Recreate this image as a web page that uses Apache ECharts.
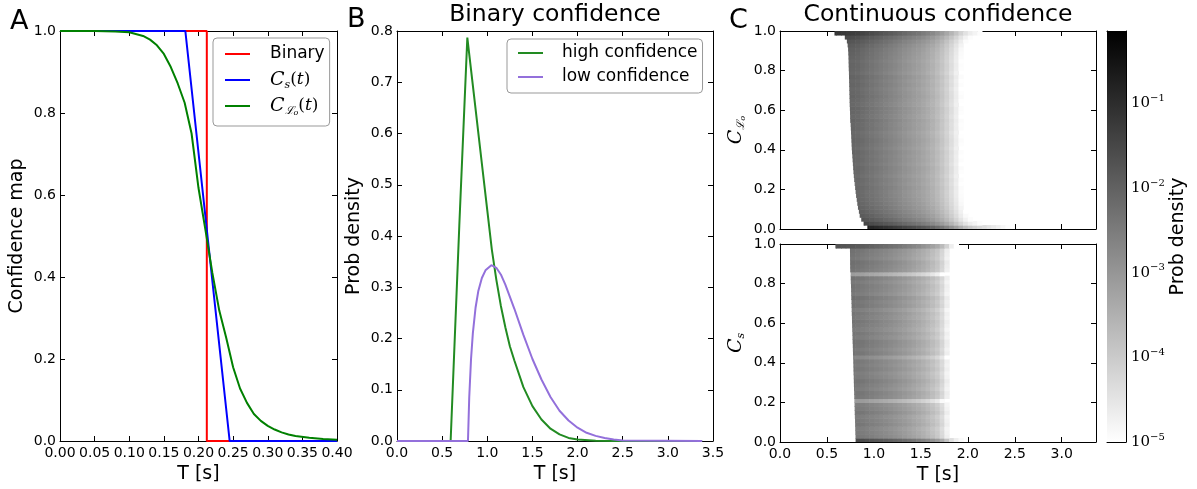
<!DOCTYPE html>
<html>
<head>
<meta charset="utf-8">
<script src="https://cdn.jsdelivr.net/npm/echarts@6/dist/echarts.min.js"></script>
<style>html,body{margin:0;padding:0;background:#fff}#chart{width:1197px;height:489px}</style>
</head>
<body>
<div id="chart"></div>
<script>
// A: confidence maps vs T
const tBinary = [0, 0.212, 0.212, 0.40];
const vBinary = [1, 1, 0, 0];
const tCs = [0, 0.181, 0.245, 0.40];
const vCs = [1, 1, 0, 0];
const tCLo = [0, 0.05, 0.08, 0.10, 0.12, 0.13, 0.14, 0.15, 0.16, 0.17, 0.18, 0.19, 0.20, 0.21, 0.22,
  0.23, 0.24, 0.25, 0.26, 0.27, 0.28, 0.29, 0.30, 0.31, 0.32, 0.33, 0.34, 0.36, 0.38, 0.40];
const vCLo = [1, 1, 0.999, 0.997, 0.988, 0.979, 0.965, 0.944, 0.912, 0.872, 0.825, 0.75, 0.617, 0.515, 0.41,
  0.318, 0.252, 0.18, 0.128, 0.093, 0.066, 0.049, 0.037, 0.028, 0.021, 0.016, 0.012, 0.008, 0.005, 0.003];

// B: binary confidence densities
const tHigh = [0, 0.594, 0.69, 0.779, 0.80, 0.85, 0.90, 0.95, 1.00, 1.05, 1.10, 1.15, 1.20, 1.25, 1.30,
  1.40, 1.50, 1.60, 1.70, 1.80, 1.90, 2.00, 2.20, 2.40, 3.38];
const vHigh = [0, 0, 0.42, 0.787, 0.755, 0.679, 0.602, 0.526, 0.45, 0.374, 0.315, 0.264, 0.222, 0.185, 0.157,
  0.105, 0.068, 0.042, 0.024, 0.013, 0.006, 0.003, 0.0005, 0, 0];
const tLow = [0, 0.786, 0.80, 0.82, 0.84, 0.87, 0.90, 0.94, 0.98, 1.045, 1.10, 1.15, 1.20, 1.30, 1.40,
  1.50, 1.60, 1.70, 1.80, 1.90, 2.00, 2.10, 2.20, 2.30, 2.40, 2.50, 3.38];
const vLow = [0, 0, 0.085, 0.16, 0.21, 0.26, 0.292, 0.318, 0.333, 0.343, 0.338, 0.325, 0.305, 0.258, 0.207,
  0.16, 0.12, 0.086, 0.059, 0.04, 0.026, 0.016, 0.01, 0.006, 0.003, 0.001, 0];

// C: continuous confidence, log10 density. columns start at tStart, step tStep; rows step confStep
const tStart = 0.55, tStep = 0.05, confStep = 0.02;
const profLo = [-1.95, -2.0, -2.05, -2.08, -2.1, -2.15, -2.22, -2.3, -2.37, -2.45,
  -2.52, -2.6, -2.68, -2.76, -2.85, -2.95, -3.03, -3.12, -3.2, -3.3,
  -3.42, -3.55, -3.72, -3.92, -4.15, -4.4, -4.68, -4.98, -5.25, -5.45,
  -5.6, -5.74, -5.86, -5.98, -6.1, -6.22, -6.34, -6.46, -6.58, -6.7, -6.85, -7.0];
const profS = [-2.3, -2.32, -2.35, -2.38, -2.4, -2.45, -2.5, -2.56, -2.62, -2.68,
  -2.74, -2.8, -2.87, -2.94, -3.02, -3.1, -3.2, -3.3, -3.4, -3.52,
  -3.66, -3.82, -4.0, -4.3, -4.75, -5.3, -5.6, -5.8, -5.95, -6.05,
  -6.15, -6.25, -6.35, -6.45, -6.55, -6.65, -6.75, -6.85, -7.0];
// per confidence row, bottom (0.00-0.02) to top (0.98-1.00)
const onsetLo = [0.93, 0.89, 0.865, 0.85, 0.84, 0.83, 0.823, 0.817, 0.81, 0.805,
  0.80, 0.795, 0.79, 0.786, 0.782, 0.779, 0.776, 0.773, 0.77, 0.767,
  0.764, 0.762, 0.76, 0.758, 0.756, 0.754, 0.752, 0.75, 0.748, 0.746,
  0.744, 0.742, 0.741, 0.74, 0.739, 0.738, 0.737, 0.736, 0.735, 0.734,
  0.732, 0.731, 0.73, 0.729, 0.727, 0.725, 0.72, 0.712, 0.69, 0.58];
const shiftLo = [1.5, 0.8, 0.5, 0.35, 0.25, 0.18, 0.12, 0.08, 0.05, 0.03,
  0.06, 0.0, 0.04, -0.03, 0.02, 0.05, -0.02, 0.03, 0.0, 0.04,
  -0.03, 0.02, 0.05, 0.0, -0.04, 0.03, 0.01, 0.05, -0.02, 0.02,
  0.04, -0.03, 0.0, 0.05, 0.02, -0.02, 0.04, 0.0, 0.06, -0.03,
  0.02, 0.04, 0.0, 0.05, 0.08, 0.12, 0.2, 0.32, 0.5, 0.8];
const onsetS = [0.805, 0.804, 0.802, 0.801, 0.800, 0.799, 0.797, 0.796, 0.795, 0.794,
  0.792, 0.791, 0.790, 0.788, 0.787, 0.786, 0.785, 0.783, 0.782, 0.781,
  0.780, 0.778, 0.777, 0.776, 0.775, 0.773, 0.772, 0.771, 0.769, 0.768,
  0.767, 0.766, 0.764, 0.763, 0.762, 0.761, 0.759, 0.758, 0.757, 0.756,
  0.754, 0.753, 0.752, 0.750, 0.749, 0.748, 0.747, 0.746, 0.745, 0.59];
const shiftS = [0.9, 0.05, 0.0, -0.05, 0.08, 0.02, -0.04, 0.1, 0.0, -0.06,
  -0.6, 0.05, 0.1, -0.03, 0.04, 0.12, 0.0, -0.05, 0.06, -0.02,
  0.03, -0.25, 0.08, 0.0, 0.1, 0.12, -0.03, 0.05, -0.06, 0.02,
  0.07, -0.02, 0.04, -0.08, 0.1, 0.05, 0.14, -0.05, 0.02, 0.06,
  -0.04, 0.08, -0.7, 0.04, 0.1, 0.15, 0.0, 0.06, 0.1, 0.6];
const cbTicks = [-5, -4, -3, -2, -1];
const cbMin = -5, cbMax = -0.145;

const FONT = 'DejaVu Sans';
const SERIF = 'DejaVu Serif';
const zip = (xs, ys) => xs.map((x, i) => [x, ys[i]]);

function cells(onset, shift, prof) {
  const out = [];
  onset.forEach((t0, i) => {
    prof.forEach((p, k) => {
      const a = tStart + k * tStep, b = a + tStep;
      if (b <= t0) return;
      const v = p + shift[i];
      if (v < cbMin) return;
      out.push([Math.max(a, t0), b, i * confStep, (i + 1) * confStep, Math.min(v, cbMax)]);
    });
  });
  return out;
}

const axLine = { show: true, onZero: false, lineStyle: { color: '#000', width: 1 } };
const axTick = { show: true, inside: true, length: 5, lineStyle: { color: '#000', width: 1 } };
const lab = { color: '#000', fontFamily: FONT, fontSize: 14 };
function fmt(dec, step) {
  return v => { const r = v / step; return Math.abs(r - Math.round(r)) < 1e-6 ? v.toFixed(dec) : ''; };
}
const mathRich = {
  c: { fontFamily: SERIF, fontStyle: 'italic', fontSize: 19, lineHeight: 22 },
  s: { fontFamily: SERIF, fontStyle: 'italic', fontSize: 11, lineHeight: 10, verticalAlign: 'bottom' },
  l: { fontFamily: SERIF, fontStyle: 'italic', fontSize: 11, lineHeight: 11, verticalAlign: 'bottom' },
  o: { fontFamily: SERIF, fontStyle: 'italic', fontSize: 8, lineHeight: 6, verticalAlign: 'bottom' },
  p: { fontFamily: SERIF, fontSize: 17, lineHeight: 22 },
  t: { fontFamily: SERIF, fontStyle: 'italic', fontSize: 17, lineHeight: 22 }
};

function xPair(grid, min, max, interval, dec, showLabel, name) {
  return [
    { type: 'value', gridIndex: grid, position: 'bottom', min, max, interval,
      axisLine: axLine, axisTick: axTick, splitLine: { show: false },
      axisLabel: Object.assign({ show: showLabel, margin: 5, formatter: fmt(dec, interval) }, lab),
      name: name || '', nameLocation: 'middle', nameGap: 24,
      nameTextStyle: { fontFamily: FONT, fontSize: 19, color: '#000' } },
    { type: 'value', gridIndex: grid, position: 'top', min, max, interval,
      axisLine: axLine, axisTick: axTick, splitLine: { show: false }, axisLabel: { show: false } }
  ];
}
function yPair(grid, min, max, interval, name, nameGap, rich) {
  return [
    { type: 'value', gridIndex: grid, position: 'left', min, max, interval,
      axisLine: axLine, axisTick: axTick, splitLine: { show: false },
      axisLabel: Object.assign({ margin: 4, formatter: fmt(1, interval) }, lab),
      name, nameLocation: 'middle', nameGap, nameRotate: 90,
      nameTextStyle: { fontFamily: FONT, fontSize: 19, color: '#000', rich } },
    { type: 'value', gridIndex: grid, position: 'right', min, max, interval,
      axisLine: axLine, axisTick: axTick, splitLine: { show: false }, axisLabel: { show: false } }
  ];
}

function renderCell(params, api) {
  const p0 = api.coord([api.value(0), api.value(3)]);
  const p1 = api.coord([api.value(1), api.value(2)]);
  return {
    type: 'rect',
    shape: { x: p0[0], y: p0[1], width: p1[0] - p0[0] + 0.6, height: p1[1] - p0[1] + 0.6 },
    style: { fill: api.visual('color') }
  };
}
function renderBar(params, api) {
  const p0 = api.coord([api.value(0), api.value(3)]);
  const p1 = api.coord([api.value(1), api.value(2)]);
  return {
    type: 'rect',
    shape: { x: p0[0], y: p0[1], width: p1[0] - p0[0], height: p1[1] - p0[1] },
    style: { fill: new echarts.graphic.LinearGradient(0, 0, 0, 1, [
      { offset: 0, color: '#000000' }, { offset: 1, color: '#ffffff' }]) }
  };
}

const line = (name, data, color, xi, yi) => ({
  name, type: 'line', data, xAxisIndex: xi, yAxisIndex: yi, symbol: 'none', clip: false,
  lineStyle: { color, width: 2 }, itemStyle: { color }, animation: false
});
const legendBase = {
  orient: 'vertical', icon: 'rect', itemWidth: 25, itemHeight: 2, backgroundColor: '#fff',
  borderColor: '#999', borderWidth: 1, borderRadius: 4, selectedMode: false
};
const legendA = {
  Binary: 'Binary',
  Cs: '{c|C}{s|s}{p|(}{t|t}{p|)}',
  CLo: '{c|C}{l|ℒ}{o|o}{p|(}{t|t}{p|)}'
};

const chart = echarts.init(document.getElementById('chart'));
chart.setOption({
  animation: false,
  grid: [
    { left: 60, top: 31, width: 277, height: 411 },
    { left: 397, top: 31, width: 316, height: 411 },
    { left: 780, top: 31, width: 316, height: 198 },
    { left: 780, top: 244, width: 316, height: 198 },
    { left: 1107, top: 31, width: 19, height: 411 }
  ],
  xAxis: [
    ...xPair(0, 0, 0.40, 0.05, 2, true, 'T [s]'),
    ...xPair(1, 0, 3.5, 0.5, 1, true, 'T [s]'),
    ...xPair(2, 0, 3.365, 0.5, 1, false, ''),
    ...xPair(3, 0, 3.365, 0.5, 1, true, 'T [s]'),
    { type: 'value', gridIndex: 4, position: 'bottom', min: 0, max: 1, axisLine: axLine,
      axisTick: { show: false }, axisLabel: { show: false }, splitLine: { show: false } },
    { type: 'value', gridIndex: 4, position: 'top', min: 0, max: 1, axisLine: axLine,
      axisTick: { show: false }, axisLabel: { show: false }, splitLine: { show: false } }
  ],
  yAxis: [
    ...yPair(0, 0, 1, 0.2, 'Confidence map', 33),
    ...yPair(1, 0, 0.8, 0.1, 'Prob density', 33),
    ...yPair(2, 0, 1, 0.2, '{c|C}{l|ℒ}{o|o}', 33, mathRich),
    ...yPair(3, 0, 1, 0.2, '{c|C}{s|s}', 33, mathRich),
    { type: 'value', gridIndex: 4, position: 'left', min: cbMin, max: cbMax, interval: 1,
      axisLine: axLine, axisTick: axTick, axisLabel: { show: false }, splitLine: { show: false } },
    { type: 'value', gridIndex: 4, position: 'right', min: cbMin, max: cbMax, interval: 1,
      axisLine: axLine, axisTick: axTick, splitLine: { show: false },
      axisLabel: {
        margin: 5,
        formatter: v => cbTicks.includes(v) ? '{b|10}{e|−' + (-v) + '}' : '',
        rich: {
          b: { fontFamily: SERIF, fontSize: 15, color: '#000', lineHeight: 20 },
          e: { fontFamily: SERIF, fontSize: 10, color: '#000', lineHeight: 12, verticalAlign: 'top' }
        }
      },
      name: 'Prob density', nameLocation: 'middle', nameGap: 42, nameRotate: 90,
      nameTextStyle: { fontFamily: FONT, fontSize: 19, color: '#000' } }
  ],
  legend: [
    Object.assign({}, legendBase, {
      data: ['Binary', 'Cs', 'CLo'], left: 213, top: 38, itemGap: 4, padding: [5, 5, 9, 12],
      formatter: n => legendA[n],
      textStyle: { fontFamily: FONT, fontSize: 17, color: '#000', lineHeight: 22, width: 53,
        padding: [0, 0, 0, 15], rich: mathRich }
    }),
    Object.assign({}, legendBase, {
      data: ['high confidence', 'low confidence'], left: 507, top: 39, itemGap: 4, padding: [4, 5, 6, 11],
      textStyle: { fontFamily: FONT, fontSize: 17, color: '#000', lineHeight: 20, padding: [0, 0, 0, 14] }
    })
  ],
  visualMap: {
    type: 'continuous', show: false, dimension: 4, min: cbMin, max: cbMax,
    seriesIndex: [5, 6], inRange: { color: ['#ffffff', '#000000'] }
  },
  graphic: [
    { type: 'text', x: 10, y: 22, style: { text: 'A', font: '27px "DejaVu Sans"', fill: '#000', verticalAlign: 'middle', textVerticalAlign: 'middle' } },
    { type: 'text', x: 347, y: 20, style: { text: 'B', font: '27px "DejaVu Sans"', fill: '#000', verticalAlign: 'middle', textVerticalAlign: 'middle' } },
    { type: 'text', x: 729, y: 21, style: { text: 'C', font: '27px "DejaVu Sans"', fill: '#000', verticalAlign: 'middle', textVerticalAlign: 'middle' } },
    { type: 'text', x: 555, y: 15, style: { text: 'Binary confidence', font: '23.5px "DejaVu Sans"', fill: '#000', align: 'center', textAlign: 'center', verticalAlign: 'middle', textVerticalAlign: 'middle' } },
    { type: 'text', x: 938, y: 15, style: { text: 'Continuous confidence', font: '23.5px "DejaVu Sans"', fill: '#000', align: 'center', textAlign: 'center', verticalAlign: 'middle', textVerticalAlign: 'middle' } }
  ],
  series: [
    line('Binary', zip(tBinary, vBinary), '#ff0000', 0, 0),
    line('Cs', zip(tCs, vCs), '#0000ff', 0, 0),
    line('CLo', zip(tCLo, vCLo), '#008000', 0, 0),
    line('high confidence', zip(tHigh, vHigh), '#228b22', 2, 2),
    line('low confidence', zip(tLow, vLow), '#9370db', 2, 2),
    { type: 'custom', name: 'heatLo', xAxisIndex: 4, yAxisIndex: 4, clip: true, silent: true,
      encode: { x: [0, 1], y: [2, 3] }, renderItem: renderCell, data: cells(onsetLo, shiftLo, profLo) },
    { type: 'custom', name: 'heatS', xAxisIndex: 6, yAxisIndex: 6, clip: true, silent: true,
      encode: { x: [0, 1], y: [2, 3] }, renderItem: renderCell, data: cells(onsetS, shiftS, profS) },
    { type: 'custom', name: 'colorbar', xAxisIndex: 8, yAxisIndex: 8, silent: true,
      encode: { x: [0, 1], y: [2, 3] }, renderItem: renderBar, data: [[0, 1, cbMin, cbMax]] }
  ]
});
</script>
</body>
</html>
